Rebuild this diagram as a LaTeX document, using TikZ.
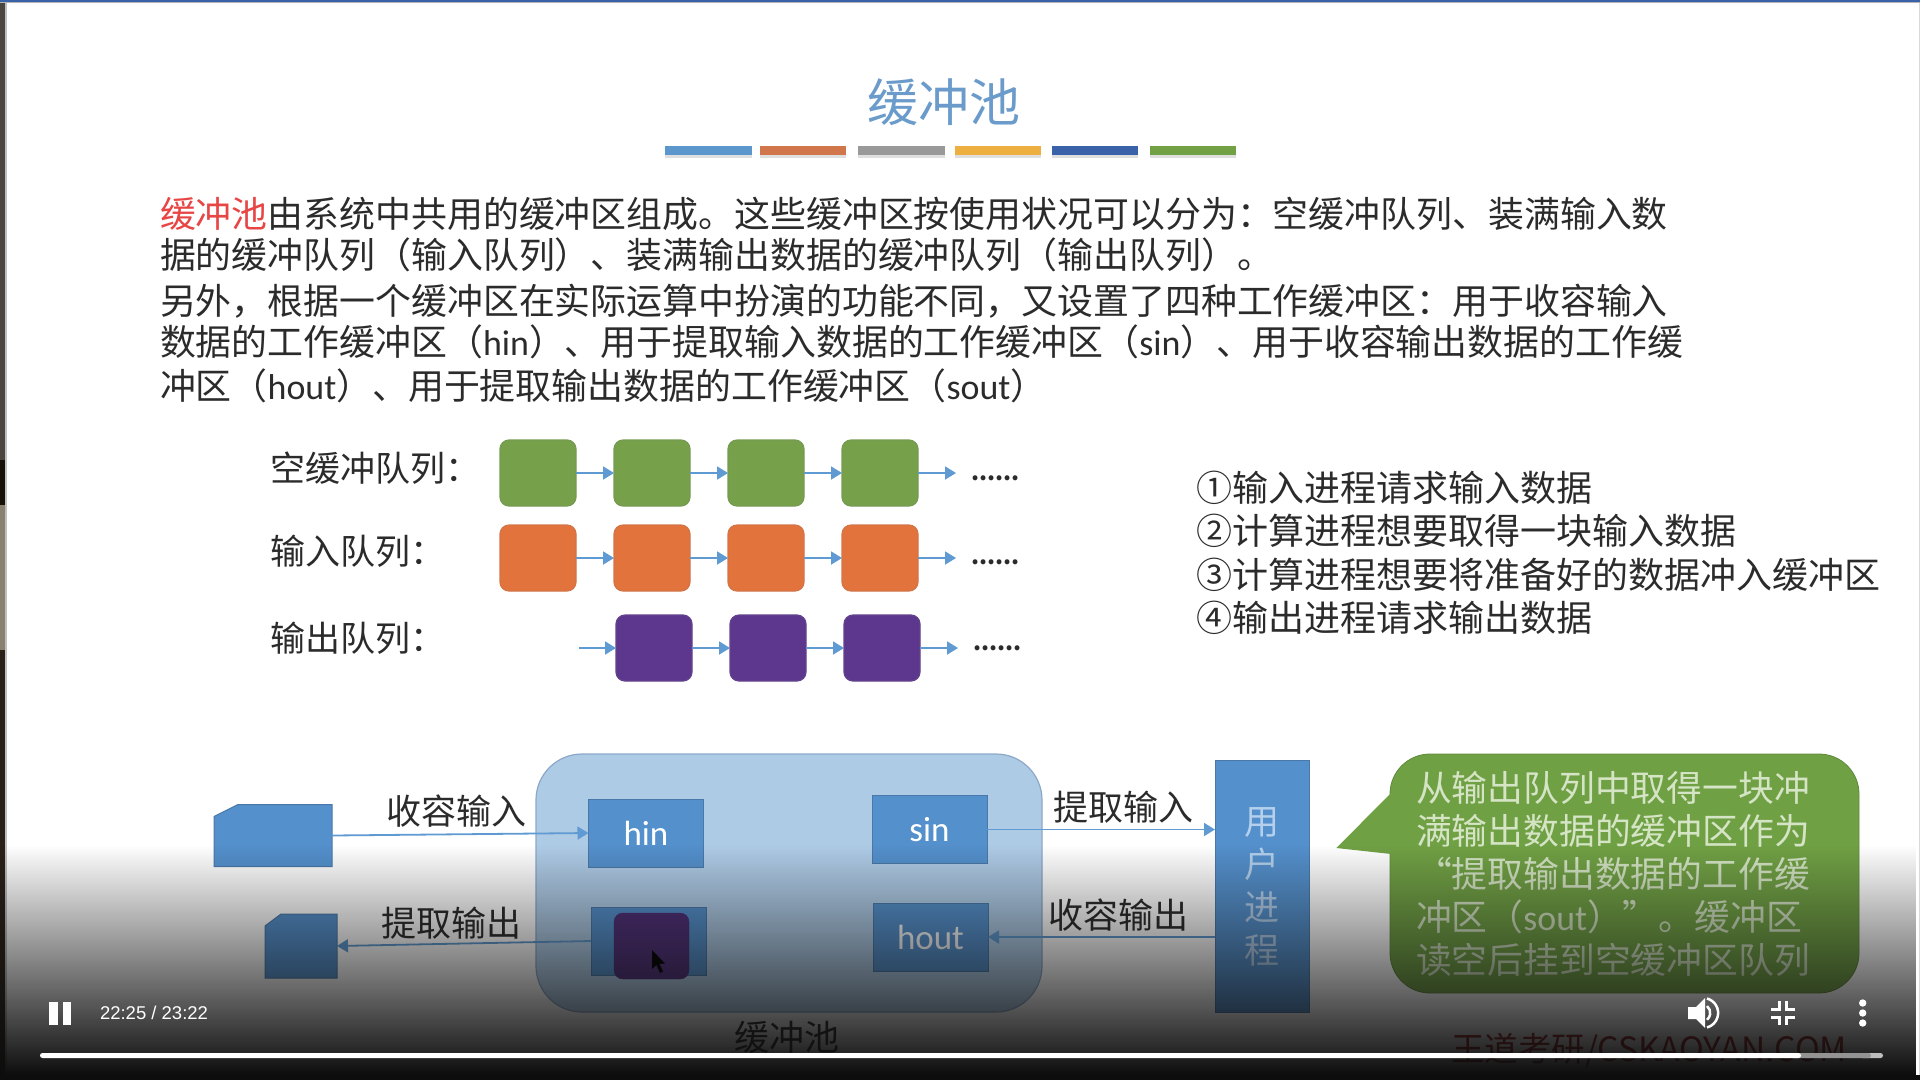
\documentclass[tikz,border=0pt]{standalone}
\usepackage{fontspec}
\setmainfont{Noto Sans CJK SC}
\newfontfamily\latinfont{Carlito}
\newfontfamily\playerfont{Liberation Sans}
\usetikzlibrary{arrows.meta,positioning,fadings}
\definecolor{ink}{HTML}{2B2B2B}
\definecolor{titleblue}{HTML}{6A9BCB}
\definecolor{barblue}{HTML}{5B97CC}
\definecolor{barorange}{HTML}{D0764A}
\definecolor{bargray}{HTML}{999999}
\definecolor{baramber}{HTML}{EDB040}
\definecolor{barnavy}{HTML}{3A62A8}
\definecolor{bargreen}{HTML}{72A044}
\definecolor{accent}{HTML}{E84545}
\definecolor{qgreen}{HTML}{76A04A}
\definecolor{qorange}{HTML}{E2733D}
\definecolor{qpurple}{HTML}{5D378E}
\definecolor{linkblue}{HTML}{5F9BD2}
\definecolor{boxblue}{HTML}{5490CC}
\definecolor{boxedge}{HTML}{4A78A8}
\definecolor{poolfill}{HTML}{AECBE6}
\definecolor{pooledge}{HTML}{8CA8C8}
\definecolor{bubblegreen}{HTML}{70A044}
\definecolor{bubbletext}{HTML}{D4E4C4}
\definecolor{usertext}{HTML}{B4D0EC}
\definecolor{markred}{HTML}{A02020}
\tikzfading[name=playerfade, top color=transparent!100, bottom color=transparent!0]
\newcommand{\lat}[1]{{\latinfont #1}}

\begin{document}
\begin{tikzpicture}[
  x=1pt, y=-1pt,
  every node/.style={inner sep=0pt, outer sep=0pt},
  text36/.style={text=ink, font=\fontsize{35.9}{41}\selectfont, align=left},
  label34/.style={text=ink, font=\fontsize{35}{41}\selectfont},
  qbox/.style={draw=#1!85!gray, fill=#1, line width=1.2pt, rounded corners=9pt,
    minimum width=76pt, minimum height=66pt},
  dots/.style={text=ink, font=\fontsize{23}{23}\selectfont\bfseries},
  link/.style={-{Triangle[length=11pt,width=13pt]}, linkblue, line width=1.8pt},
  work/.style={draw=boxedge, fill=boxblue, line width=1pt, text=white,
    minimum width=115pt, minimum height=68pt, font=\fontsize{35}{35}\selectfont\latinfont},
  card/.style={draw=boxedge, fill=boxblue, line width=1pt}
]
  \useasboundingbox (0,0) rectangle (1920,1080);
  \fill[white] (0,0) rectangle (1920,1080);
  \foreach \ya/\yb/\stripcol in {0/460/4A453F, 460/505/151008, 505/650/8A8070, 650/1080/2A2018} {
    \definecolor{stripcolor}{HTML}{\stripcol}
    \fill[stripcolor] (0,\ya) rectangle (5,\yb);
  }
  \fill[gray!50] (5,0) rectangle (6.5,1080);
  \fill[gray!30] (1919,0) rectangle (1920,1080);
  \fill[gray!60] (0,1.5) rectangle (1920,2.5);
  \fill[barnavy] (0,0) rectangle (1920,1.5);

  \node[text=titleblue, font=\fontsize{51}{51}\selectfont] (title) at (944,102) {缓冲池};
  \foreach \xa/\xb/\barcol in {665/752/barblue, 760/846/barorange, 858/945/bargray,
      955/1041/baramber, 1052/1138/barnavy, 1150/1236/bargreen} {
    \fill[gray!25] (\xa,155) rectangle (\xb,158);
    \fill[\barcol] (\xa,146) rectangle (\xb,155);
  }

  \node[text36, anchor=north west] (para1) at (160,197)
    {{\color{accent}缓冲池}由系统中共用的缓冲区组成。这些缓冲区按使用状况可以分为：空缓冲队列、装满输入数\\
     据的缓冲队列（输入队列）、装满输出数据的缓冲队列（输出队列）。};
  \node[text36, anchor=north west] (para2) at (160,284)
    {另外，根据一个缓冲区在实际运算中扮演的功能不同，又设置了四种工作缓冲区：用于收容输入\\
     数据的工作缓冲区（\lat{hin}）、用于提取输入数据的工作缓冲区（\lat{sin}）、用于收容输出数据的工作缓\\[3pt]
     冲区（\lat{hout}）、用于提取输出数据的工作缓冲区（\lat{sout}）};

  \node[label34, anchor=west] (emptylabel) at (270,468) {空缓冲队列：};
  \node[label34, anchor=west] (inlabel) at (270,551) {输入队列：};
  \node[label34, anchor=west] (outlabel) at (270,638) {输出队列：};

  \node[qbox=qgreen] (g1) at (538,473) {};
  \node[qbox=qgreen, right=38pt of g1] (g2) {};
  \node[qbox=qgreen, right=38pt of g2] (g3) {};
  \node[qbox=qgreen, right=38pt of g3] (g4) {};
  \coordinate[right=38pt of g4] (gend);
  \node[dots, anchor=base west] (gdots) at (971,480) {......};

  \node[qbox=qorange] (r1) at (538,558) {};
  \node[qbox=qorange, right=38pt of r1] (r2) {};
  \node[qbox=qorange, right=38pt of r2] (r3) {};
  \node[qbox=qorange, right=38pt of r3] (r4) {};
  \coordinate[right=38pt of r4] (rend);
  \node[dots, anchor=base west] (rdots) at (971,564) {......};

  \node[qbox=qpurple] (p1) at (654,648) {};
  \node[qbox=qpurple, right=38pt of p1] (p2) {};
  \node[qbox=qpurple, right=38pt of p2] (p3) {};
  \coordinate[left=37pt of p1] (pstart);
  \coordinate[right=38pt of p3] (pend);
  \node[dots, anchor=base west] (pdots) at (973,650) {......};

  \foreach \a/\b in {g1/g2, g2/g3, g3/g4, g4/gend, r1/r2, r2/r3, r3/r4, r4/rend, pstart/p1, p1/p2, p2/p3, p3/pend}
    \draw[link] (\a) -- (\b);

  \node[text36, font=\fontsize{36}{43.4}\selectfont, anchor=north west] (steps) at (1196,471)
    {①输入进程请求输入数据\\ ②计算进程想要取得一块输入数据\\ ③计算进程想要将准备好的数据冲入缓冲区\\ ④输出进程请求输出数据};

  \node[draw=pooledge, fill=poolfill, line width=1.2pt, rounded corners=46pt,
    minimum width=506pt, minimum height=258pt] (pool) at (789,883) {};
  \node[work] (hin) at (646,833) {hin};
  \node[work] (sin) at (929.5,829.5) {sin};
  \node[work] (soutbox) at (648.5,941) {};
  \node[work] (hout) at (930.5,937) {hout};
  \node[draw=qpurple!80!black, fill=qpurple!85!black, rounded corners=9pt,
    minimum width=75pt, minimum height=66pt] (held) at (651.5,946) {};
  \node[minimum width=118pt, minimum height=62pt] (incard) at (273,835.5) {};
  \node[minimum width=72pt, minimum height=64pt] (outcard) at (301,946) {};
  \filldraw[card] (incard.south west) -- (incard.south east) -- (incard.north east)
    -- ([xshift=24pt]incard.north west) -- ([yshift=-12pt]incard.north west) -- cycle;
  \filldraw[card] (outcard.south west) -- (outcard.south east) -- (outcard.north east)
    -- ([xshift=16pt]outcard.north west) -- ([yshift=-12pt]outcard.north west) -- cycle;
  \node[draw=boxedge, fill=boxblue, line width=1pt, minimum width=94pt, minimum height=252pt,
    text=usertext, font=\fontsize{35}{43}\selectfont, align=center] (user) at (1262,886.7)
    {用\\户\\进\\程};

  \draw[link] (incard.east) -- (hin.west);
  \draw[link] (soutbox.west) -- (outcard.east);
  \draw[link] (sin.east) -- (sin.east -| user.west);
  \draw[link] (user.west |- hout.east) -- (hout.east);

  \fill[black] (652,950) -- (652,969) -- (656.5,965) -- (660,973) -- (663,971.5) -- (659.5,964) -- (665,963.5) -- cycle;

  \node[label34] (intake) at (456,811) {收容输入};
  \node[label34] (fetchout) at (451,923) {提取输出};
  \node[label34] (fetchin) at (1123,807) {提取输入};
  \node[label34] (takeout) at (1118,915) {收容输出};
  \node[label34] (poolname) at (787,1037) {缓冲池};

  \node[fill=bubblegreen, draw=bubblegreen!85!black, line width=.8pt, rounded corners=40pt,
    minimum width=469pt, minimum height=239pt, inner xsep=26pt, text width=417pt,
    text=bubbletext, font=\fontsize{35.8}{43}\selectfont, align=left] (bubble) at (1624.5,873.5)
    {从输出队列中取得一块冲\\满输出数据的缓冲区作为\\“提取输出数据的工作缓\\冲区（\lat{sout}）”。缓冲区\\读空后挂到空缓冲区队列};
  \fill[bubblegreen] (1391,793) -- (1336.4,848) -- (1391,854) -- cycle;

  \node[text=markred, font=\fontsize{33.5}{33.5}\selectfont, anchor=west] (mark) at (1451,1050)
    {王道考研/CSKAOYAN.COM};

  \fill[black!95, path fading=playerfade] (0,845) rectangle (1920,1075);
  \fill[black!95] (0,1075) rectangle (1920,1080);

  \fill[white] (49,1002) rectangle (57.5,1025);
  \fill[white] (63,1002) rectangle (71,1025);
  \node[text=white, font=\fontsize{18.5}{18.5}\selectfont\playerfont, anchor=west] (clock) at (100,1013)
    {22:25 / 23:22};

  \fill[gray!50, rounded corners=2.5pt] (1860,1053) rectangle (1883,1058);
  \fill[gray!85!white, rounded corners=2.5pt] (1790,1053) rectangle (1871,1058);
  \fill[white, rounded corners=2.5pt] (40,1053) rectangle (1801,1058);

  \fill[white] (1688,1007) -- (1696,1007) -- (1705,998) -- (1705,1028) -- (1696,1019) -- (1688,1019) -- cycle;
  \draw[white, line width=2.5pt] (1707,1006) arc[start angle=-50, end angle=50, radius=9];
  \draw[white, line width=2.5pt] (1707,998.5) arc[start angle=-75, end angle=75, radius=15];

  \draw[white, line width=3pt] (1779.5,1001) -- (1779.5,1009.5) -- (1771,1009.5);
  \draw[white, line width=3pt] (1786.5,1001) -- (1786.5,1009.5) -- (1795,1009.5);
  \draw[white, line width=3pt] (1771,1017) -- (1779.5,1017) -- (1779.5,1025);
  \draw[white, line width=3pt] (1795,1017) -- (1786.5,1017) -- (1786.5,1025);

  \foreach \ydot in {1003,1013,1023}
    \fill[white] (1862.7,\ydot) circle (3.7);
\end{tikzpicture}
\end{document}
